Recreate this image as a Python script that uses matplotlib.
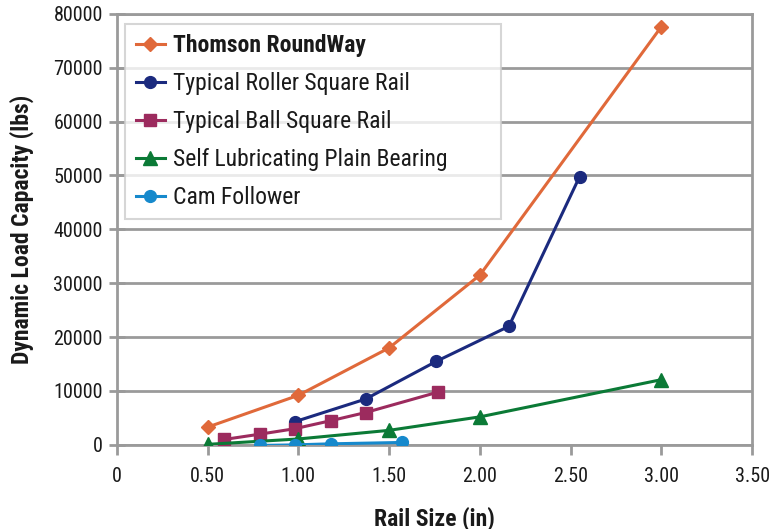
import matplotlib
matplotlib.use("Agg")
import matplotlib.pyplot as plt
from matplotlib.ticker import FixedLocator

plt.rcParams['font.family'] = ['Roboto Condensed', 'DejaVu Sans']

# data
thomson_x = [0.50, 1.00, 1.50, 2.00, 3.00]
thomson_y = [3300, 9200, 18000, 31500, 77600]

roller_x = [0.98, 1.37, 1.76, 2.16, 2.55]
roller_y = [4300, 8500, 15500, 22000, 49800]

ball_x = [0.59, 0.79, 0.98, 1.18, 1.37, 1.77]
ball_y = [1000, 2000, 3000, 4500, 6000, 9800]

plain_x = [0.50, 1.00, 1.50, 2.00, 3.00]
plain_y = [100, 1100, 2700, 5200, 12100]

cam_x = [0.79, 0.98, 1.18, 1.57]
cam_y = [-100, 0, 200, 450]

x_ticks = [0, 0.5, 1.0, 1.5, 2.0, 2.5, 3.0, 3.5]
x_labels = ['0', '0.50', '1.00', '1.50', '2.00', '2.50', '3.00', '3.50']
y_ticks = [0, 10000, 20000, 30000, 40000, 50000, 60000, 70000, 80000]

grid_c = '#9a9a9a'
text_c = '#1a1a1a'

fig = plt.figure(figsize=(7.69, 5.29), dpi=100)
ax = fig.add_axes([0.152, 0.159, 0.826, 0.815])

ax.plot(thomson_x, thomson_y, color='#E0693A', lw=2.2, marker='D', ms=7,
        label='Thomson RoundWay', zorder=5)
ax.plot(roller_x, roller_y, color='#1B2A7E', lw=2.2, marker='o', ms=8.5,
        label='Typical Roller Square Rail', zorder=4)
ax.plot(ball_x, ball_y, color='#9C2B5E', lw=2.2, marker='s', ms=8.5,
        label='Typical Ball Square Rail', zorder=4)
ax.plot(plain_x, plain_y, color='#0B7A36', lw=2.2, marker='^', ms=9.5,
        label='Self Lubricating Plain Bearing', zorder=4)
ax.plot(cam_x, cam_y, color='#1689CC', lw=2.2, marker='o', ms=8.5,
        label='Cam Follower', zorder=4)

ax.set_xlim(0, 3.5)
ax.set_ylim(0, 80000)
ax.xaxis.set_major_locator(FixedLocator(x_ticks))
ax.set_xticklabels(x_labels)
ax.set_yticks(y_ticks)
ax.yaxis.grid(True, color=grid_c, lw=2)
ax.set_axisbelow(True)

for s in ax.spines.values():
    s.set_color(grid_c)
    s.set_linewidth(2)

ax.tick_params(axis='x', direction='out', length=7, width=2, color=grid_c,
               labelsize=14.5, pad=9, labelcolor=text_c)
ax.tick_params(axis='y', direction='inout', length=12, width=2, color=grid_c,
               labelsize=14.5, pad=4, labelcolor=text_c)

ax.set_xlabel('Rail Size (in)', fontsize=17, fontweight='bold', color=text_c)
ax.set_ylabel('Dynamic Load Capacity (lbs)', fontsize=17, fontweight='bold', color=text_c)
ax.xaxis.set_label_coords(0.5, -0.142)
ax.yaxis.set_label_coords(-0.130, 0.5)

leg = ax.legend(loc='upper left', bbox_to_anchor=(0.0126, 0.5, 0.592, 0.477),
                mode='expand', borderaxespad=0, fontsize=17,
                frameon=True, fancybox=False, edgecolor='#cccccc',
                handlelength=1.25, handletextpad=0.35, borderpad=0.45,
                labelspacing=0.63)
leg.get_frame().set_linewidth(1.5)
for t in leg.get_texts():
    t.set_color(text_c)
leg.get_texts()[0].set_fontweight('bold')

fig.savefig('out.png', dpi=100)
